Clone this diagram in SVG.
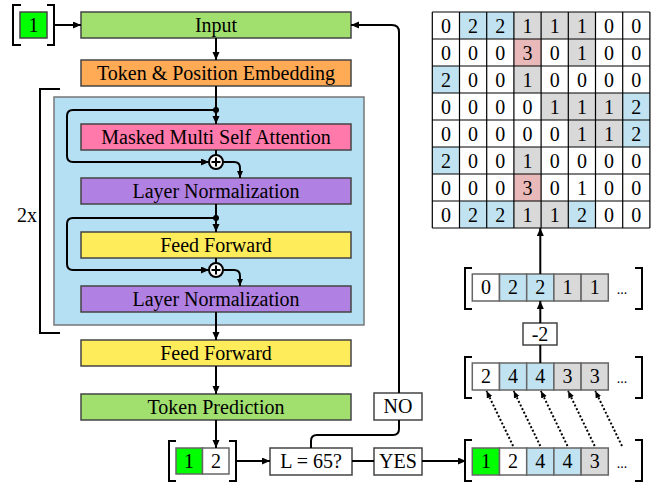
<svg xmlns="http://www.w3.org/2000/svg" width="652" height="482" viewBox="0 0 652 482" font-family="'Liberation Serif', 'DejaVu Serif', 'Times New Roman', Times, serif">
<defs>
<marker id="ah" markerUnits="userSpaceOnUse" markerWidth="9" markerHeight="8" refX="8" refY="3.5" orient="auto"><path d="M0,0 L8,3.5 L0,7 z" fill="#000"/></marker>
<marker id="ahs" markerUnits="userSpaceOnUse" markerWidth="8" markerHeight="7" refX="7" refY="3" orient="auto"><path d="M0,0 L7,3 L0,6 z" fill="#000"/></marker>
<style>
text{font-family:'Liberation Serif','DejaVu Serif','Times New Roman',Times,serif;font-size:20px;fill:#000;text-anchor:middle}
.box{stroke:#444;stroke-width:1.5}
.g{fill:#a1e06f}.o{fill:#ffaa55}.p{fill:#ff7aaa}.v{fill:#b080e2}.y{fill:#ffec5a}
.w{fill:#fff}.bl{fill:#c1e2f0}.gr{fill:#d9d9d9}.pk{fill:#e9b9b9}.lg{fill:#00ff00}
.c{fill:none;stroke:#000;stroke-width:2}
.br{fill:none;stroke:#000;stroke-width:2}
.cell{stroke:#666;stroke-width:1.5}
.grid{fill:none;stroke:#000;stroke-width:1.2}
.d{fill:none;stroke:#000;stroke-width:2;stroke-dasharray:2,2}
</style>
</defs>

<g id="start-token">
<path class="br" d="M21,5 H13 V45 H21 M47,5 H54 V45 H47"/>
<rect class="lg cell" x="20" y="12" width="27" height="26" style="stroke:#444"/>
<text x="33.5" y="32">1</text>
</g>

<rect id="repeat-panel" x="54" y="97" width="310" height="228" fill="#b5dff3" stroke="#777" stroke-width="1.5"/>
<g id="repeat-bracket">
<path class="br" d="M60,89 H40 V333 H60"/>
<text x="27" y="222">2x</text>
</g>

<g id="input"><rect class="box g" x="81" y="12" width="270" height="26"/><text x="216" y="32">Input</text></g>
<g id="embedding"><rect class="box o" x="81" y="60" width="270" height="26"/><text x="216" y="80">Token &amp; Position Embedding</text></g>
<g id="attention"><rect class="box p" x="81" y="124" width="270" height="26"/><text x="216" y="144">Masked Multi Self Attention</text></g>
<g id="layernorm1"><rect class="box v" x="81" y="178" width="270" height="26"/><text x="216" y="198">Layer Normalization</text></g>
<g id="feedforward1"><rect class="box y" x="81" y="232" width="270" height="26"/><text x="216" y="252">Feed Forward</text></g>
<g id="layernorm2"><rect class="box v" x="81" y="286" width="270" height="26"/><text x="216" y="306">Layer Normalization</text></g>
<g id="feedforward2"><rect class="box y" x="81" y="340" width="270" height="26"/><text x="216" y="360">Feed Forward</text></g>
<g id="prediction"><rect class="box g" x="81" y="394" width="270" height="26"/><text x="216" y="414">Token Prediction</text></g>

<g id="add1"><circle cx="216" cy="162" r="7" fill="#fff" stroke="#000" stroke-width="2"/><path d="M211.5,162 H220.5 M216,157.5 V166.5" stroke="#000" stroke-width="2"/></g>
<g id="add2"><circle cx="216" cy="270" r="7" fill="#fff" stroke="#000" stroke-width="2"/><path d="M211.5,270 H220.5 M216,265.5 V274.5" stroke="#000" stroke-width="2"/></g>

<g id="sequence">
<path class="br" d="M176,441 H169 V481 H176 M229,441 H236 V481 H229"/>
<rect class="lg cell" x="176" y="448" width="26.5" height="26"/>
<rect class="w cell" x="202.5" y="448" width="26.5" height="26"/>
<text x="189" y="468">1</text><text x="216" y="468">2</text>
</g>

<g id="check"><rect class="box w" x="270" y="448" width="82" height="27"/><text x="311" y="468">L = 65?</text></g>
<g id="yes"><rect class="box w" x="374" y="448" width="48" height="27"/><text x="398" y="468">YES</text></g>
<g id="no"><rect class="box w" x="374" y="393" width="48" height="27"/><text x="398" y="413">NO</text></g>

<g id="matrix">
<rect class="bl" x="459.5" y="12" width="54.4" height="27"/>
<rect class="gr" x="513.9" y="12" width="81.6" height="27"/>
<rect class="pk" x="513.9" y="39" width="27.2" height="27"/>
<rect class="gr" x="568.3" y="39" width="27.2" height="27"/>
<rect class="bl" x="432.3" y="66" width="27.2" height="27"/>
<rect class="gr" x="513.9" y="66" width="27.2" height="27"/>
<rect class="gr" x="541.1" y="93" width="81.6" height="27"/>
<rect class="bl" x="622.7" y="93" width="27.2" height="27"/>
<rect class="gr" x="568.3" y="120" width="54.4" height="27"/>
<rect class="bl" x="622.7" y="120" width="27.2" height="27"/>
<rect class="bl" x="432.3" y="147" width="27.2" height="27"/>
<rect class="gr" x="513.9" y="147" width="27.2" height="27"/>
<rect class="pk" x="513.9" y="174" width="27.2" height="27"/>
<rect class="bl" x="459.5" y="201" width="54.4" height="27"/>
<rect class="gr" x="513.9" y="201" width="54.4" height="27"/>
<rect class="bl" x="568.3" y="201" width="27.2" height="27"/>
<path class="grid" d="M432.3,12 V228 M459.5,12 V228 M486.7,12 V228 M513.9,12 V228 M541.1,12 V228 M568.3,12 V228 M595.5,12 V228 M622.7,12 V228 M649.9,12 V228 M432.3,12 H649.9 M432.3,39 H649.9 M432.3,66 H649.9 M432.3,93 H649.9 M432.3,120 H649.9 M432.3,147 H649.9 M432.3,174 H649.9 M432.3,201 H649.9 M432.3,228 H649.9"/>
<g>
<text x="445.9" y="33">0</text><text x="473.1" y="33">2</text><text x="500.3" y="33">2</text><text x="527.5" y="33">1</text><text x="554.7" y="33">1</text><text x="581.9" y="33">1</text><text x="609.1" y="33">0</text><text x="636.3" y="33">0</text>
<text x="445.9" y="60">0</text><text x="473.1" y="60">0</text><text x="500.3" y="60">0</text><text x="527.5" y="60">3</text><text x="554.7" y="60">0</text><text x="581.9" y="60">1</text><text x="609.1" y="60">0</text><text x="636.3" y="60">0</text>
<text x="445.9" y="87">2</text><text x="473.1" y="87">0</text><text x="500.3" y="87">0</text><text x="527.5" y="87">1</text><text x="554.7" y="87">0</text><text x="581.9" y="87">0</text><text x="609.1" y="87">0</text><text x="636.3" y="87">0</text>
<text x="445.9" y="114">0</text><text x="473.1" y="114">0</text><text x="500.3" y="114">0</text><text x="527.5" y="114">0</text><text x="554.7" y="114">1</text><text x="581.9" y="114">1</text><text x="609.1" y="114">1</text><text x="636.3" y="114">2</text>
<text x="445.9" y="141">0</text><text x="473.1" y="141">0</text><text x="500.3" y="141">0</text><text x="527.5" y="141">0</text><text x="554.7" y="141">0</text><text x="581.9" y="141">1</text><text x="609.1" y="141">1</text><text x="636.3" y="141">2</text>
<text x="445.9" y="168">2</text><text x="473.1" y="168">0</text><text x="500.3" y="168">0</text><text x="527.5" y="168">1</text><text x="554.7" y="168">0</text><text x="581.9" y="168">0</text><text x="609.1" y="168">0</text><text x="636.3" y="168">0</text>
<text x="445.9" y="195">0</text><text x="473.1" y="195">0</text><text x="500.3" y="195">0</text><text x="527.5" y="195">3</text><text x="554.7" y="195">0</text><text x="581.9" y="195">1</text><text x="609.1" y="195">0</text><text x="636.3" y="195">0</text>
<text x="445.9" y="222">0</text><text x="473.1" y="222">2</text><text x="500.3" y="222">2</text><text x="527.5" y="222">1</text><text x="554.7" y="222">1</text><text x="581.9" y="222">2</text><text x="609.1" y="222">0</text><text x="636.3" y="222">0</text>
</g>
</g>

<g id="offset-array">
<path class="br" d="M472,268 H465 V309 H472 M635,268 H642 V309 H635"/>
<rect class="w cell" x="472.3" y="274" width="27.2" height="27"/>
<rect class="bl cell" x="499.5" y="274" width="27.2" height="27"/>
<rect class="bl cell" x="526.7" y="274" width="27.2" height="27"/>
<rect class="gr cell" x="553.9" y="274" width="27.2" height="27"/>
<rect class="gr cell" x="581.1" y="274" width="27.2" height="27"/>
<text x="485.9" y="294">0</text><text x="513.1" y="294">2</text><text x="540.3" y="294">2</text><text x="567.5" y="294">1</text><text x="594.7" y="294">1</text>
<text x="622" y="294" style="font-size:14px">...</text>
</g>

<g id="minus2"><rect class="box w" x="523" y="323" width="34" height="22"/><text x="540" y="341">-2</text></g>

<g id="shifted-array">
<path class="br" d="M472,357 H465 V398 H472 M635,357 H642 V398 H635"/>
<rect class="w cell" x="472.3" y="363" width="27.2" height="27"/>
<rect class="bl cell" x="499.5" y="363" width="27.2" height="27"/>
<rect class="bl cell" x="526.7" y="363" width="27.2" height="27"/>
<rect class="gr cell" x="553.9" y="363" width="27.2" height="27"/>
<rect class="gr cell" x="581.1" y="363" width="27.2" height="27"/>
<text x="485.9" y="383">2</text><text x="513.1" y="383">4</text><text x="540.3" y="383">4</text><text x="567.5" y="383">3</text><text x="594.7" y="383">3</text>
<text x="622" y="383" style="font-size:14px">...</text>
</g>

<g id="output-array">
<path class="br" d="M472,440 H465 V481 H472 M635,440 H642 V481 H635"/>
<rect class="lg cell" x="472.3" y="448" width="27.2" height="27"/>
<rect class="w cell" x="499.5" y="448" width="27.2" height="27"/>
<rect class="bl cell" x="526.7" y="448" width="27.2" height="27"/>
<rect class="bl cell" x="553.9" y="448" width="27.2" height="27"/>
<rect class="gr cell" x="581.1" y="448" width="27.2" height="27"/>
<text x="485.9" y="468">1</text><text x="513.1" y="468">2</text><text x="540.3" y="468">4</text><text x="567.5" y="468">4</text><text x="594.7" y="468">3</text>
<text x="622" y="468" style="font-size:14px">...</text>
</g>

<g id="connectors">
<path class="c" d="M54,25 H81" marker-end="url(#ah)"/>
<path class="c" d="M216,38 V60" marker-end="url(#ah)"/>
<path class="c" d="M216,86 V124" marker-end="url(#ah)"/>
<circle cx="216" cy="110" r="3"/>
<path class="c" d="M216,110 H73 Q67,110 67,116 V156 Q67,162 73,162 H209" marker-end="url(#ah)"/>
<path class="c" d="M216,150 V155"/>
<path class="c" d="M223,162 H234 Q240,162 240,168 V178" marker-end="url(#ahs)"/>
<path class="c" d="M216,204 V232" marker-end="url(#ah)"/>
<circle cx="216" cy="218" r="3"/>
<path class="c" d="M216,218 H73 Q67,218 67,224 V264 Q67,270 73,270 H209" marker-end="url(#ah)"/>
<path class="c" d="M216,258 V263"/>
<path class="c" d="M223,270 H234 Q240,270 240,276 V286" marker-end="url(#ahs)"/>
<path class="c" d="M216,312 V340" marker-end="url(#ah)"/>
<path class="c" d="M216,366 V394" marker-end="url(#ah)"/>
<path class="c" d="M216,420 V448" marker-end="url(#ah)"/>
<path class="c" d="M237,461 H270" marker-end="url(#ah)"/>
<path class="c" d="M352,461 H374"/>
<path class="c" d="M422,461 H466" marker-end="url(#ah)"/>
<path class="c" d="M311,448 V441 Q311,435 317,435 H393 Q399,435 399,429 V420"/>
<path class="c" d="M399,393 V32 Q399,25 392,25 H351" marker-end="url(#ah)"/>
<path class="c" d="M540.3,274 V228" marker-end="url(#ah)"/>
<path class="c" d="M540.3,323 V301" marker-end="url(#ah)"/>
<path class="c" d="M540.3,363 V345"/>
<path class="d" d="M513.1,446 L486.5,391" marker-end="url(#ahs)"/>
<path class="d" d="M540.3,446 L513.7,391" marker-end="url(#ahs)"/>
<path class="d" d="M567.5,446 L540.9,391" marker-end="url(#ahs)"/>
<path class="d" d="M594.7,446 L568.1,391" marker-end="url(#ahs)"/>
<path class="d" d="M622,446 L595.3,391" marker-end="url(#ahs)"/>
</g>
</svg>
